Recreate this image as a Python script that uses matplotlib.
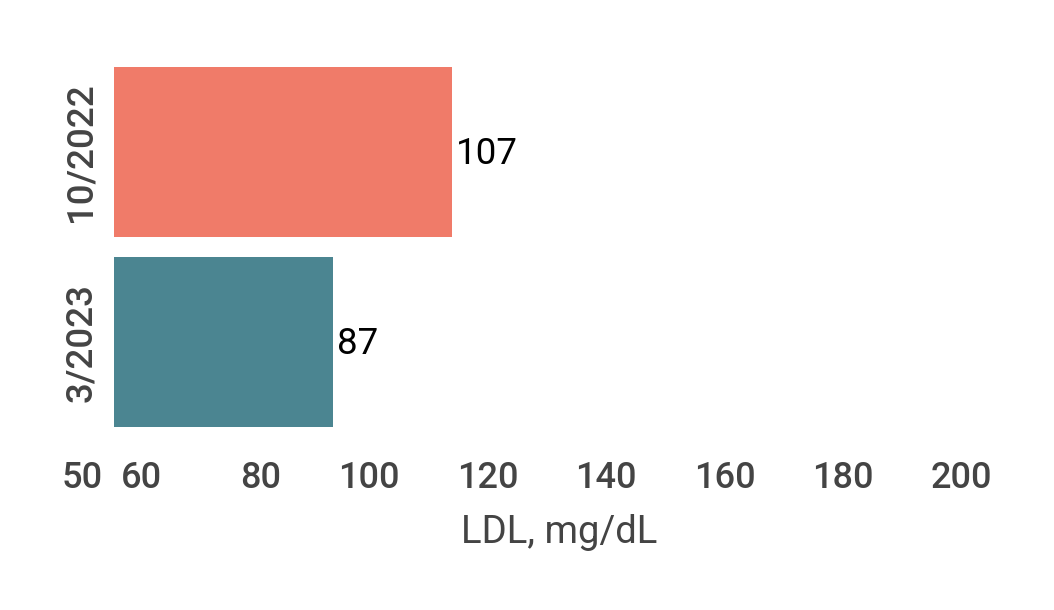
import matplotlib
matplotlib.use("Agg")
import matplotlib.pyplot as plt
import matplotlib.transforms as mtransforms

# dados
categorias = ["3/2023", "10/2022"]
ldl = [87, 107]
cores = ["#4B8591", "#F07B69"]
base = 50
ticks_x = [50, 60, 80, 100, 120, 140, 160, 180, 200]

plt.rcParams["font.family"] = ["Roboto", "DejaVu Sans"]
cinza = "#444444"

fig = plt.figure(figsize=(10.54, 6.10), dpi=100)
ax = fig.add_axes([114 / 1054, 1 - 437 / 610, (1003.5 - 114) / 1054, (437 - 57) / 610])

pos = list(range(len(categorias)))
ax.barh(pos, [v - base for v in ldl], left=base, height=0.895, color=cores)

for p, v in zip(pos, ldl):
    ax.annotate(str(v), xy=(v, p), xytext=(4, -2), textcoords="offset pixels",
                ha="left", va="center", fontsize=26.5, color="black")

ax.set_xlim(50, 200)
ax.set_ylim(-0.5, 1.5)

ax.set_yticks(pos)
ax.set_yticklabels(categorias, rotation=90, va="center", fontsize=26.5,
                   color=cinza, fontweight="medium")
ax.set_xticks(ticks_x)
ax.set_xticklabels([])

# rotulos do eixo x: alinhados a direita e deslocados, como no original
trans_x = ax.get_xaxis_transform() + mtransforms.ScaledTranslation(-0.11, -0.51, fig.dpi_scale_trans)
for t in ticks_x:
    ax.text(t, 0, str(t), transform=trans_x, ha="right", va="baseline",
            fontsize=26, color=cinza, fontweight="medium")

trans_lbl = ax.transAxes + mtransforms.ScaledTranslation(0, -1.06, fig.dpi_scale_trans)
ax.text(0.5, 0, "LDL, mg/dL", transform=trans_lbl, ha="center", va="baseline",
        fontsize=27.5, color=cinza)

ax.tick_params(axis="both", length=0)
ax.tick_params(axis="y", pad=11)
for s in ax.spines.values():
    s.set_visible(False)

fig.savefig("out.png", dpi=100)
